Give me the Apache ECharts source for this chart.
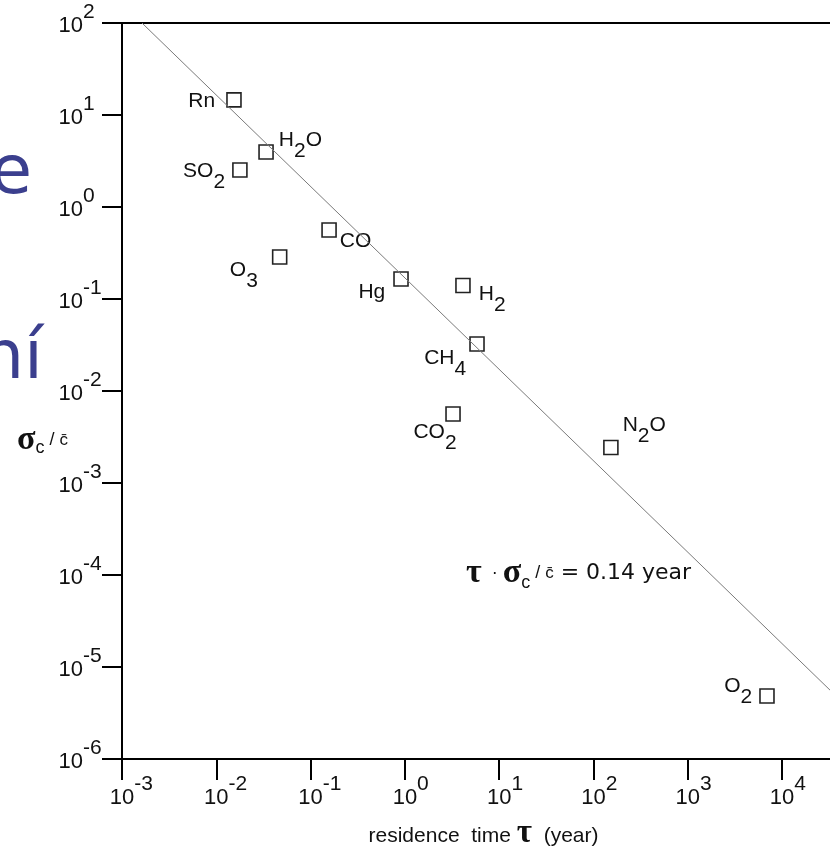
<!DOCTYPE html>
<html>
<head>
<meta charset="utf-8">
<script src="https://cdn.jsdelivr.net/npm/echarts@6/dist/echarts.min.js"></script>
<style>
  html, body { margin: 0; padding: 0; background: #fff; }
  #chart { width: 830px; height: 849px; }
</style>
</head>
<body>
<div id="chart"></div>
<script>
// ---- data ----
const species = ['Rn', 'H2O', 'SO2', 'O3', 'CO', 'Hg', 'H2', 'CH4', 'CO2', 'N2O', 'O2'];
const residenceTime = [0.0154, 0.0337, 0.0178, 0.047, 0.157, 0.91, 4.13, 5.82, 3.24, 153, 6920]; // years
const relVariability = [14.6, 3.96, 2.52, 0.286, 0.562, 0.165, 0.14, 0.0324, 0.00562, 0.00243, 4.84e-6]; // sigma_c / c-bar
const fitTau = [0.00163, 32300];
const fitSigma = [100, 5.6e-6];
const xRange = [0.001, Math.pow(10, 4.519)];
const yRange = [1e-6, 100];

// ---- label placement (style) ----
const labelPlace = {
  Rn:  ['left',  -6,   1],
  H2O: ['right',  0, -12],
  SO2: ['left',  -2,   1],
  O3:  ['left',  -9,  13],
  CO:  ['right', -2,  11],
  Hg:  ['left',  -3,  13],
  H2:  ['right',  3,   9],
  CH4: ['left',   2,  14],
  CO2: ['inside', -18, 18],
  N2O: ['right', -1, -22],
  O2:  ['left',  -2, -10]
};

const SANS = 'Liberation Sans, Arial, sans-serif';
const SERIF = 'Liberation Serif, Times New Roman, serif';

function chemRich(name) {
  return name.replace(/([A-Za-z]+)|(\d+)/g, function (m, a, d) {
    return a ? '{n|' + a + '}' : '{s|' + d + '}';
  });
}

const scatterData = species.map(function (s, i) {
  const p = labelPlace[s];
  return {
    name: s,
    value: [residenceTime[i], relVariability[i]],
    label: { position: p[0], offset: [p[1], p[2]] }
  };
});

function powLabel(v, padLeft) {
  const e = Math.log10(v);
  const r = Math.round(e);
  if (Math.abs(e - r) > 1e-6) return '';
  return (padLeft ? '{p| }' : '') + '{b|10}{u|' + (r < 0 ? '-' + (-r) : r) + '}';
}

const tickRich = {
  p: { width: 18, fontSize: 22, fontFamily: SANS, verticalAlign: 'middle', align: 'left' },
  b: { fontSize: 22, fontFamily: SANS, color: '#111', verticalAlign: 'middle', align: 'left', padding: [5, 0, 0, 0] },
  u: { fontSize: 21, fontFamily: SANS, color: '#111', verticalAlign: 'middle', align: 'left', width: 18, padding: [0, 0, 22, 0] }
};

const chart = echarts.init(document.getElementById('chart'), null, { renderer: 'canvas' });

chart.setOption({
  animation: false,
  backgroundColor: '#fff',
  grid: {
    left: 122, top: 23, right: -1, bottom: 90,
    containLabel: false,
    outerBoundsMode: 'none',
    show: true, borderColor: '#000', borderWidth: 2
  },
  xAxis: {
    type: 'log', logBase: 10,
    min: xRange[0], max: xRange[1],
    splitNumber: 8,
    axisLine: { show: true, onZero: false, lineStyle: { color: '#000', width: 2 } },
    axisTick: { show: true, length: 21, inside: false, lineStyle: { color: '#000', width: 2 } },
    minorTick: { show: false },
    splitLine: { show: false },
    axisLabel: {
      margin: 15,
      formatter: function (v) { return powLabel(v, true); },
      rich: tickRich,
      hideOverlap: false
    },
    name: '{a|residence  time }{t|τ}{c|  (year)}',
    nameLocation: 'middle',
    nameGap: 58,
    nameTextStyle: {
      rich: {
        a: { fontSize: 21, fontFamily: SANS, color: '#111', verticalAlign: 'middle', padding: [6, 0, 0, 14] },
        t: { fontSize: 33, fontFamily: SERIF, fontWeight: 'bold', color: '#111', verticalAlign: 'middle' },
        c: { fontSize: 21, fontFamily: SANS, color: '#111', verticalAlign: 'middle', padding: [6, 0, 0, 0] }
      }
    }
  },
  yAxis: {
    type: 'log', logBase: 10,
    min: yRange[0], max: yRange[1],
    splitNumber: 8,
    axisLine: { show: true, onZero: false, lineStyle: { color: '#000', width: 2 } },
    axisTick: { show: true, length: 20, inside: false, lineStyle: { color: '#000', width: 2 } },
    minorTick: { show: false },
    splitLine: { show: false },
    axisLabel: {
      margin: 21,
      formatter: function (v) { return powLabel(v, false); },
      rich: tickRich,
      hideOverlap: false
    }
  },
  series: [
    {
      type: 'line',
      data: fitTau.map(function (t, i) { return [t, fitSigma[i]]; }),
      symbol: 'none',
      clip: true,
      lineStyle: { color: '#7a7a7a', width: 1 },
      silent: true
    },
    {
      type: 'scatter',
      symbol: 'rect',
      symbolSize: 14,
      data: scatterData,
      itemStyle: { color: '#fff', borderColor: '#222', borderWidth: 1.6, opacity: 1 },
      label: {
        show: true,
        distance: 5,
        formatter: function (p) { return chemRich(p.name); },
        rich: {
          n: { fontSize: 21, fontFamily: SANS, color: '#111', verticalAlign: 'middle' },
          s: { fontSize: 21, fontFamily: SANS, color: '#111', verticalAlign: 'middle', padding: [22, 0, 0, 0] }
        }
      }
    }
  ],
  graphic: [
    {
      type: 'text', x: 32, y: 175,
      style: { text: 'e', fill: '#3b3f8e', font: '68px "DejaVu Sans"', align: 'right', verticalAlign: 'middle' }
    },
    {
      type: 'text', x: 43, y: 360,
      style: { text: 'ní', fill: '#3b3f8e', font: '68px "DejaVu Sans"', align: 'right', verticalAlign: 'middle' }
    },
    {
      type: 'text', x: 17, y: 440,
      style: {
        text: '{g|σ}{c|c}{d| / }{m|c̄}',
        align: 'left', verticalAlign: 'middle',
        rich: {
          g: { fontSize: 34, fontFamily: SERIF, fontWeight: 'bold', fill: '#111', verticalAlign: 'middle' },
          c: { fontSize: 18, fontFamily: SANS, fill: '#111', verticalAlign: 'middle', padding: [16, 0, 0, 0] },
          d: { fontSize: 18, fontFamily: SANS, fill: '#111', verticalAlign: 'middle' },
          m: { fontSize: 17, fontFamily: SANS, fill: '#111', verticalAlign: 'middle' }
        }
      }
    },
    {
      type: 'text', x: 466, y: 573,
      style: {
        text: '{g|τ}{d|  · }{g|σ}{c|c}{d| / }{m|c̄}{e| = 0.14 year}',
        align: 'left', verticalAlign: 'middle',
        rich: {
          g: { fontSize: 34, fontFamily: SERIF, fontWeight: 'bold', fill: '#111', verticalAlign: 'middle' },
          c: { fontSize: 18, fontFamily: SANS, fill: '#111', verticalAlign: 'middle', padding: [20, 0, 0, 0] },
          d: { fontSize: 18, fontFamily: SANS, fill: '#111', verticalAlign: 'middle' },
          m: { fontSize: 17, fontFamily: SANS, fill: '#111', verticalAlign: 'middle' },
          e: { fontSize: 22, fontFamily: '"DejaVu Sans"', fill: '#111', verticalAlign: 'middle' }
        }
      }
    }
  ]
});
</script>
</body>
</html>
